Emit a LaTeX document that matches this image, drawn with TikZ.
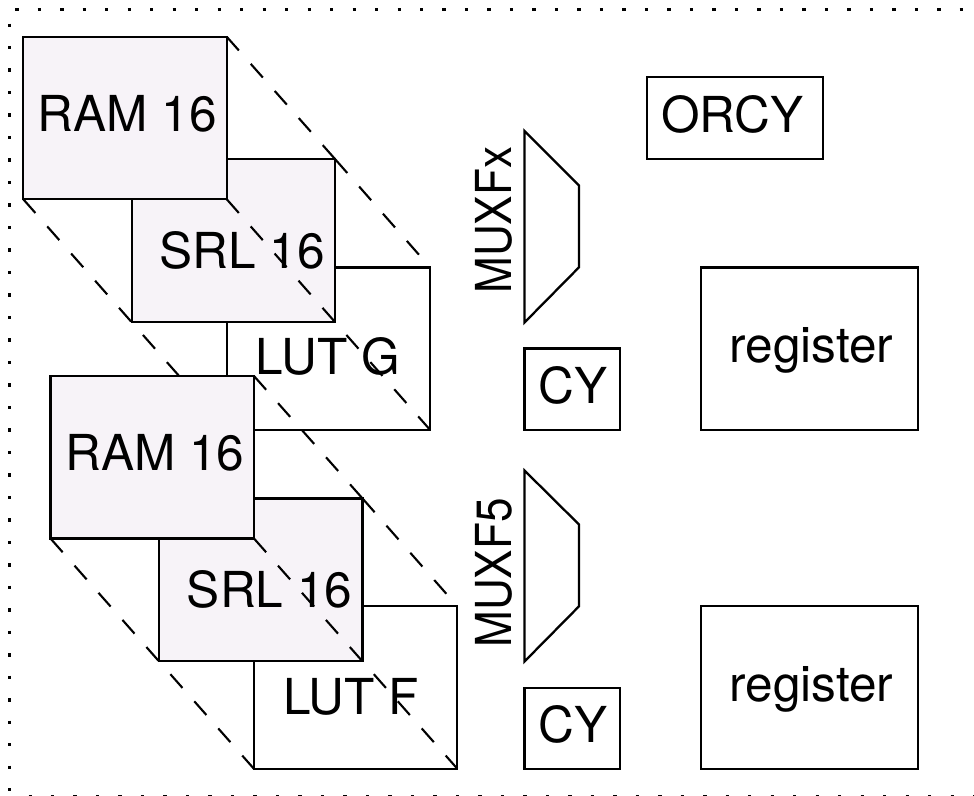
\documentclass[tikz,border=0pt]{standalone}
\usepackage{fontspec}
\setmainfont{TeX Gyre Heros}
\usepackage{xcolor}
\usepackage{tikz}
\definecolor{cellfill}{HTML}{F7F3F8}

\begin{document}
\begin{tikzpicture}[
        x=0.02cm, y=-0.02cm,
        font=\fontsize{28.2}{30}\selectfont,
        box/.style={draw, line width=1.3pt, outer sep=0pt, inner sep=0pt},
        cell/.style={box, minimum width=4.07cm, minimum height=3.25cm},
        stored/.style={cell, fill=cellfill},
        reg/.style={box, minimum width=4.35cm, minimum height=3.25cm},
        carry/.style={box, minimum width=1.91cm, minimum height=1.63cm},
        orgate/.style={box, minimum width=3.53cm, minimum height=1.64cm},
        mux/.style={line width=1.3pt, line join=miter},
        muxlabel/.style={rotate=90, anchor=base west, inner sep=0pt},
        link/.style={line width=1.2pt, dash pattern=on 10.4pt off 10.2pt},
        frameline/.style={line width=1.5pt, dash pattern=on 1.9pt off 10.9pt}
    ]
        \useasboundingbox (0,0) rectangle (974,795);

        % outer frame
        \coordinate (frametl) at (15.2,9.5);
        \coordinate (frametr) at (990,9.5);
        \coordinate (framelt) at (9.5,23.5);
        \coordinate (framelb) at (9.5,800);
        \coordinate (framebl) at (28.5,796.5);
        \coordinate (framebr) at (990,796.5);
        \draw[frameline] (frametl) -- (frametr);
        \draw[frameline] (framelt) -- (framelb);
        \draw[frameline] (framebl) -- (framebr);

        % upper slice
        \node[cell, label={[xshift=-0.5pt,yshift=-4.5pt]center:LUT G}] (lutg) at (328.4,348.7) {};
        \node[stored, label={[xshift=5pt,yshift=-5.8pt]center:SRL 16}] (srlg) at (233.5,240.5) {};
        \node[stored, label={[xshift=1.4pt,yshift=2.3pt]center:RAM 16}] (ramg) at (125,118) {};
        \draw[link] (ramg.north east) -- (srlg.north east);
        \draw[link] (srlg.north east) -- (lutg.north east);
        \draw[link] (ramg.south east) -- (lutg.south east);
        \draw[link] (ramg.south west) -- (lutg.south west);

        % lower slice
        \node[cell, label={[xshift=-2.6pt,yshift=-5.2pt]center:LUT F}] (lutf) at (355.6,687.5) {};
        \node[stored, label={[xshift=5pt,yshift=-5.8pt]center:SRL 16}] (srlf) at (260.8,579.7) {};
        \node[stored, label={[xshift=1.4pt,yshift=2.3pt]center:RAM 16}] (ramf) at (152.3,457.3) {};
        \draw[link] (ramf.north east) -- (srlf.north east);
        \draw[link] (srlf.north east) -- (lutf.north east);
        \draw[link] (ramf.south east) -- (lutf.south east);
        \draw[link] (ramf.south west) -- (lutf.south west);

        % muxes
        \draw[mux] (524.5,131) -- (579,185.5) -- (579,267.3) -- (524.5,322.5) -- cycle;
        \node[muxlabel] (muxfx) at (511.5,294) {\scalebox{0.89}[1]{MUXFx}};
        \draw[mux] (524.5,470.5) -- (579,524.5) -- (579,606.3) -- (524.5,661.5) -- cycle;
        \node[muxlabel] (muxfv) at (511.5,648) {\scalebox{0.89}[1]{MUXF5}};

        % carry and registers
        \node[carry, label={[xshift=0.5pt,yshift=2.3pt]center:CY}] (cyg) at (572.2,389.2) {};
        \node[carry, label={[xshift=0.5pt,yshift=2.3pt]center:CY}] (cyf) at (572.2,728.5) {};
        \node[orgate, label={[xshift=-1.4pt,yshift=2.3pt]center:ORCY}] (orcy) at (735,118.3) {};
        \node[reg, label={[xshift=1pt,yshift=-1pt]center:register}] (regg) at (809.5,348.7) {};
        \node[reg, label={[xshift=1pt,yshift=-1pt]center:register}] (regf) at (809.5,687.5) {};
    \end{tikzpicture}
\end{document}
